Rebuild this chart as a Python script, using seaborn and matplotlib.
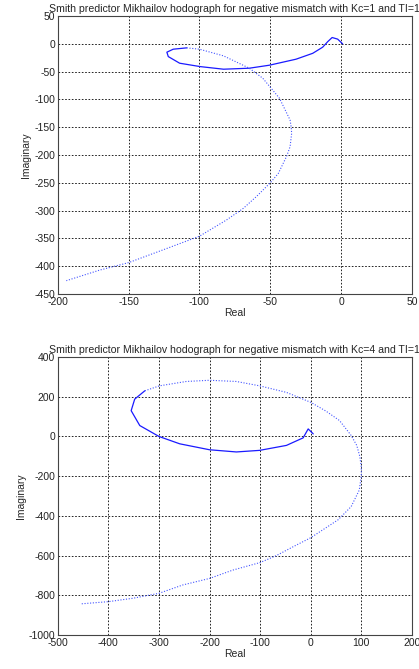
import numpy as np
import pandas as pd
import matplotlib
matplotlib.use('Agg')
import matplotlib.pyplot as plt
import seaborn as sns

# 1. Точки годографа

# Kc=1: плотная часть (петля) и разреженная часть
re1_solid = [1.1, -2.4, -6.3, -9.4, -13, -20, -31.8, -50.6, -64.8, -83, -99.5, -114, -122, -123, -118.5, -109]
im1_solid = [0, 8.5, 11.4, 4, -6, -17, -27.6, -38.4, -43.8, -45.6, -40.9, -34.8, -22.9, -15, -9.6, -7.2]
re1_dot = [-109, -100, -83, -64.8, -55.3, -43.5, -36, -35.2, -34.9, -36, -38.4, -44.3, -50, -59.7, -69, -81,
           -100, -123, -150, -170.5, -194]
im1_dot = [-7.2, -9.6, -21.6, -43.8, -61.8, -97.8, -137, -150, -161, -185, -202, -233, -250, -274.5, -295.8,
           -317, -346, -368, -393.5, -407, -426]

# Kc=4
re2_solid = [5, -5, -15, -48, -101, -147, -200, -259, -300, -338, -355, -348, -328]
im2_solid = [13, 38, -7, -45, -70, -78, -67, -37, 0, 55, 130, 188, 230]
re2_dot = [-328, -299, -246, -200, -147, -101, -48, 0, 30, 57, 80, 91, 97, 100, 100, 96, 80, 54, 0, -36,
           -68, -100, -154, -200, -253, -300, -352, -400, -454]
im2_dot = [230, 255, 277, 283, 277, 255, 222, 172, 128, 80, 5, -45, -100, -153, -200, -270, -353, -420, -510,
           -557, -600, -635, -673, -715, -748, -790, -815, -832, -843]

titles = ['Smith predictor Mikhailov hodograph for negative mismatch with Kc=1 and TI=1',
          'Smith predictor Mikhailov hodograph for negative mismatch with Kc=4 and TI=1']
xlims = [(-200, 50), (-500, 200)]
ylims = [(-450, 50), (-1000, 400)]
xticks = [np.arange(-200, 51, 50), np.arange(-500, 201, 100)]
yticks = [np.arange(-450, 51, 50), np.arange(-1000, 401, 200)]

sns.set_style('white')
plt.rcParams['font.family'] = ['Liberation Sans', 'DejaVu Sans']
plt.rcParams['font.size'] = 7.5
plt.rcParams['axes.unicode_minus'] = False

fig = plt.figure(figsize=(4.19, 6.69), dpi=100)
ax1 = fig.add_axes([0.138, 0.5605, 0.845, 0.4155])
ax2 = fig.add_axes([0.138, 0.0508, 0.845, 0.4155])

data = [(re1_solid, im1_solid, re1_dot, im1_dot), (re2_solid, im2_solid, re2_dot, im2_dot)]

for i, ax in enumerate([ax1, ax2]):
    rs, ims, rd, imd = data[i]
    sns.lineplot(x=rs, y=ims, sort=False, estimator=None, color='#1a1aff', linewidth=0.9, ax=ax)
    sns.lineplot(x=rd, y=imd, sort=False, estimator=None, color='#4455ff', linewidth=0.8,
                 linestyle=(0, (1, 1.5)), ax=ax)
    ax.set_xlim(*xlims[i])
    ax.set_ylim(*ylims[i])
    ax.set_xticks(xticks[i])
    ax.set_yticks(yticks[i])
    ax.grid(True, color='black', linestyle=(0, (2, 2)), linewidth=0.6)
    ax.tick_params(direction='in', length=3, labelsize=7.5, colors='#222222', pad=2)
    for sp in ax.spines.values():
        sp.set_color('#444444')
        sp.set_linewidth(0.8)
    ax.set_title(titles[i], fontsize=7.6, pad=3)
    ax.set_xlabel('Real', fontsize=7.5, labelpad=1)
    ax.set_ylabel('Imaginary', fontsize=7.5, labelpad=2)

fig.savefig('out.png', dpi=100)
